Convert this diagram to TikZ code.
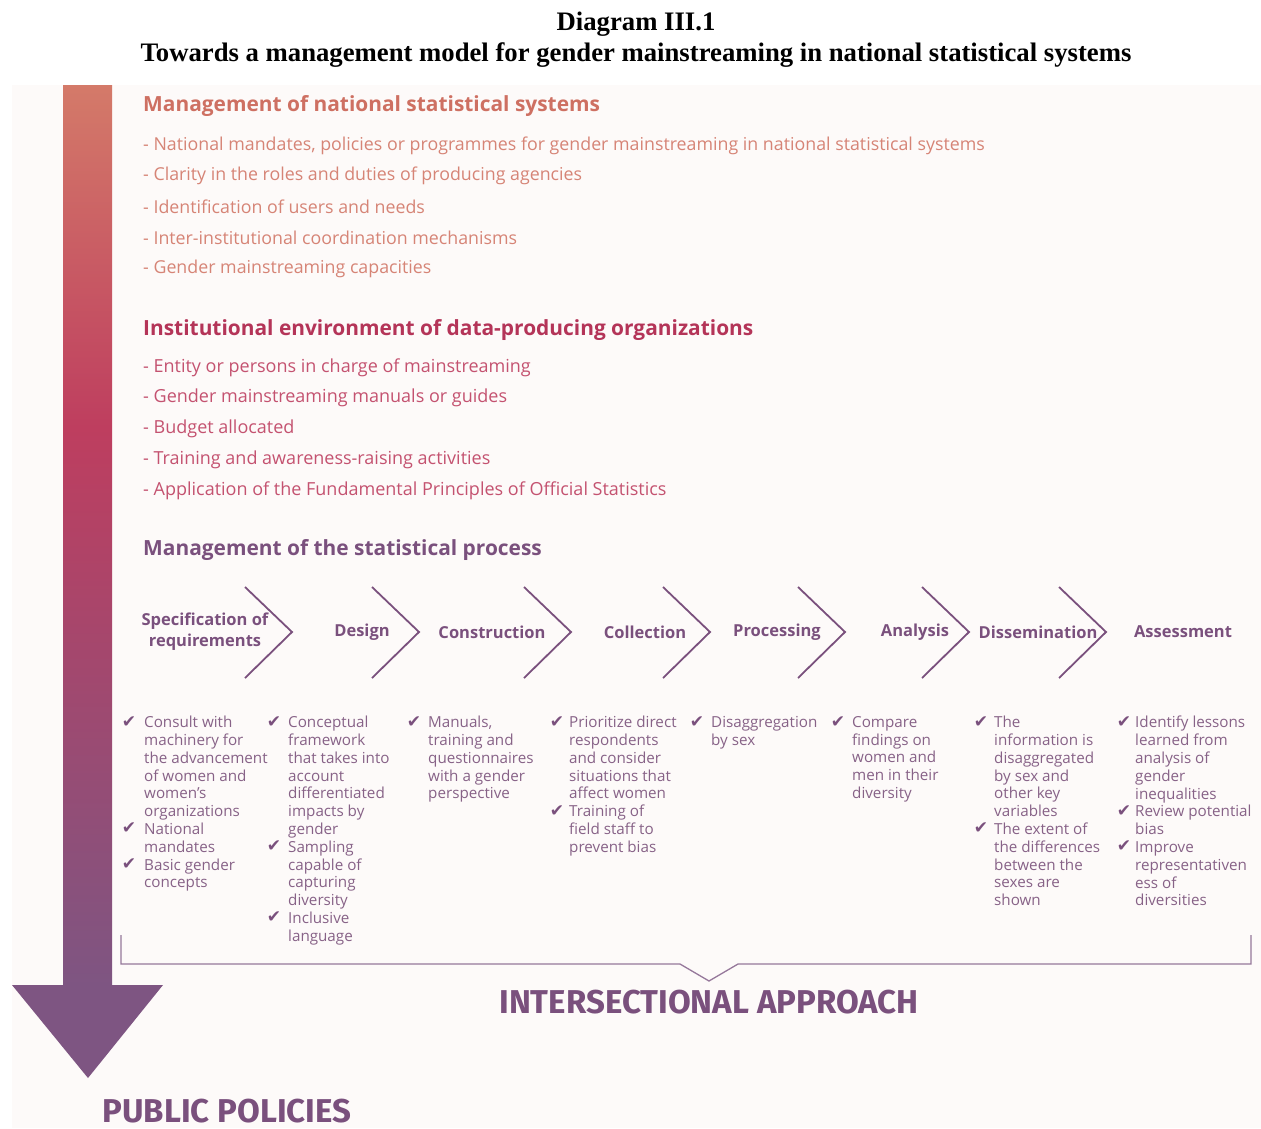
\documentclass[tikz,border=0pt]{standalone}
\usepackage{fontspec}
\setmainfont{Open Sans}
\newfontfamily\titlefont{Liberation Serif}
\newfontfamily\headfont{Open Sans}
\newfontfamily\bigfont{Fira Sans}
\newfontfamily\symfont{DejaVu Sans}
\definecolor{salmonH}{RGB}{206,112,98}
\definecolor{salmonT}{RGB}{214,132,118}
\definecolor{crimsonH}{RGB}{180,52,88}
\definecolor{crimsonT}{RGB}{196,82,112}
\definecolor{purpH}{RGB}{122,80,125}
\definecolor{purpT}{RGB}{135,98,135}
\definecolor{bracketC}{RGB}{150,120,155}
\definecolor{panel}{RGB}{253,250,249}
\definecolor{arrA}{RGB}{212,122,105}
\definecolor{arrB}{RGB}{190,62,95}
\definecolor{arrC}{RGB}{126,85,130}
\pgfdeclareverticalshading{arrowshade}{100bp}{color(0bp)=(arrC); color(25bp)=(arrC); color(56bp)=(arrB); color(75bp)=(arrA); color(100bp)=(arrA)}
\tikzset{
  titlestyle/.style={font=\titlefont\bfseries\fontsize{26.7}{30}\selectfont, inner sep=0},
  hone/.style={font=\headfont\bfseries\fontsize{20.9}{24}\selectfont, text=salmonH, anchor=west, inner sep=0},
  htwo/.style={font=\headfont\bfseries\fontsize{20.9}{24}\selectfont, text=crimsonH, anchor=west, inner sep=0},
  hthree/.style={font=\headfont\bfseries\fontsize{20.9}{24}\selectfont, text=purpH, anchor=west, inner sep=0},
  ione/.style={font=\fontsize{17.8}{20}\selectfont, text=salmonT, anchor=west, inner sep=0},
  itwo/.style={font=\fontsize{18}{20}\selectfont, text=crimsonT, anchor=west, inner sep=0},
  stage/.style={font=\headfont\bfseries\fontsize{16.5}{21}\selectfont, text=purpH, align=center, inner sep=0},
  chev/.style={draw=purpH, line width=1.8pt, line join=miter},
  ctext/.style={font=\fontsize{15.2}{17.8}\selectfont, text=purpT, align=left, inner sep=0, anchor=north west,
    execute at begin node={\rule{0pt}{13pt}}},
  cmark/.style={font=\symfont\fontsize{17}{17}\selectfont, text=purpH, inner sep=0, anchor=base},
  brk/.style={draw=bracketC, line width=1.3pt},
  bigtxt/.style={font=\bigfont\bfseries\fontsize{33}{36}\selectfont, text=purpH, inner sep=0}
}
\begin{document}
\begin{tikzpicture}[x=1pt,y=-1pt]
\useasboundingbox (0,0) rectangle (1261,1128);
\fill[white] (0,0) rectangle (1261,1128);
\fill[panel] (12,85) rectangle (1261,1128);
% big arrow
\shade[shading=arrowshade] (63,85) rectangle (112,986);
\fill[arrC] (12,985) -- (163,985) -- (88,1078) -- cycle;
% title
\node[titlestyle] (t1) at (636,24) {Diagram III.1};
\node[titlestyle] (t2) at (636,55) {Towards a management model for gender mainstreaming in national statistical systems};
% section 1
\node[hone] (s1) at (143,106) {Management of national statistical systems};
\node[ione] (s1a) at (143,146) {- National mandates, policies or programmes for gender mainstreaming in national statistical systems};
\node[ione] (s1b) at (143,176) {- Clarity in the roles and duties of producing agencies};
\node[ione] (s1c) at (143,207) {- Identification of users and needs};
\node[ione] (s1d) at (143,238) {- Inter-institutional coordination mechanisms};
\node[ione] (s1e) at (143,269) {- Gender mainstreaming capacities};
% section 2
\node[htwo] (s2) at (143,330) {Institutional environment of data-producing organizations};
\node[itwo] (s2a) at (143,368) {- Entity or persons in charge of mainstreaming};
\node[itwo] (s2b) at (143,398) {- Gender mainstreaming manuals or guides};
\node[itwo] (s2c) at (143,429) {- Budget allocated};
\node[itwo] (s2d) at (143,460) {- Training and awareness-raising activities};
\node[itwo] (s2e) at (143,491) {- Application of the Fundamental Principles of Official Statistics};
% section 3
\node[hthree] (s3) at (143,550) {Management of the statistical process};
% stages
\node[stage] (p1) at (205,632) {Specification of\\requirements};
\node[stage] (p2) at (362,632) {Design};
\node[stage] (p3) at (492,632) {Construction};
\node[stage] (p4) at (645,632) {Collection};
\node[stage] (p5) at (777,632) {Processing};
\node[stage] (p6) at (915,632) {Analysis};
\node[stage] (p7) at (1038,632) {Dissemination};
\node[stage] (p8) at (1183,632) {Assessment};
\foreach \a in {245,372,524,663,798,922,1059}{
  \draw[chev] (\a,587) -- (\a+47,632) -- (\a,678);
}
% checklists
\node[ctext] (c1) at (144,716) {Consult with\\machinery for\\the advancement\\of women and\\women’s\\organizations\\National\\mandates\\Basic gender\\concepts};
\node[cmark] (m11) at (129,727) {✔};
\node[cmark] (m12) at (129,833.8) {✔};
\node[cmark] (m13) at (129,869.4) {✔};
\node[ctext] (c2) at (288,716) {Conceptual\\framework\\that takes into\\account\\differentiated\\impacts by\\gender\\Sampling\\capable of\\capturing\\diversity\\Inclusive\\language};
\node[cmark] (m21) at (274,727) {✔};
\node[cmark] (m22) at (274,851.6) {✔};
\node[cmark] (m23) at (274,922.8) {✔};
\node[ctext] (c3) at (428,716) {Manuals,\\training and\\questionnaires\\with a gender\\perspective};
\node[cmark] (m31) at (414,727) {✔};
\node[ctext] (c4) at (569,716) {Prioritize direct\\respondents\\and consider\\situations that\\affect women\\Training of\\field staff to\\prevent bias};
\node[cmark] (m41) at (557,727) {✔};
\node[cmark] (m42) at (557,816) {✔};
\node[ctext] (c5) at (711,716) {Disaggregation\\by sex};
\node[cmark] (m51) at (697,727) {✔};
\node[ctext] (c6) at (852,716) {Compare\\findings on\\women and\\men in their\\diversity};
\node[cmark] (m61) at (838,727) {✔};
\node[ctext] (c7) at (994,716) {The\\information is\\disaggregated\\by sex and\\other key\\variables\\The extent of\\the differences\\between the\\sexes are\\shown};
\node[cmark] (m71) at (981,727) {✔};
\node[cmark] (m72) at (981,833.8) {✔};
\node[ctext] (c8) at (1135,716) {Identify lessons\\learned from\\analysis of\\gender\\inequalities\\Review potential\\bias\\Improve\\representativen\\ess of\\diversities};
\node[cmark] (m81) at (1124,727) {✔};
\node[cmark] (m82) at (1124,816) {✔};
\node[cmark] (m83) at (1124,851.6) {✔};
% bracket
\draw[brk] (121,935) -- (121,964) -- (680,964) -- (709,981) -- (738,964) -- (1251,964) -- (1251,935);
\node[bigtxt] (ia) at (709,1002) {INTERSECTIONAL APPROACH};
\node[bigtxt] (pp) at (227,1111) {PUBLIC POLICIES};
\end{tikzpicture}
\end{document}
